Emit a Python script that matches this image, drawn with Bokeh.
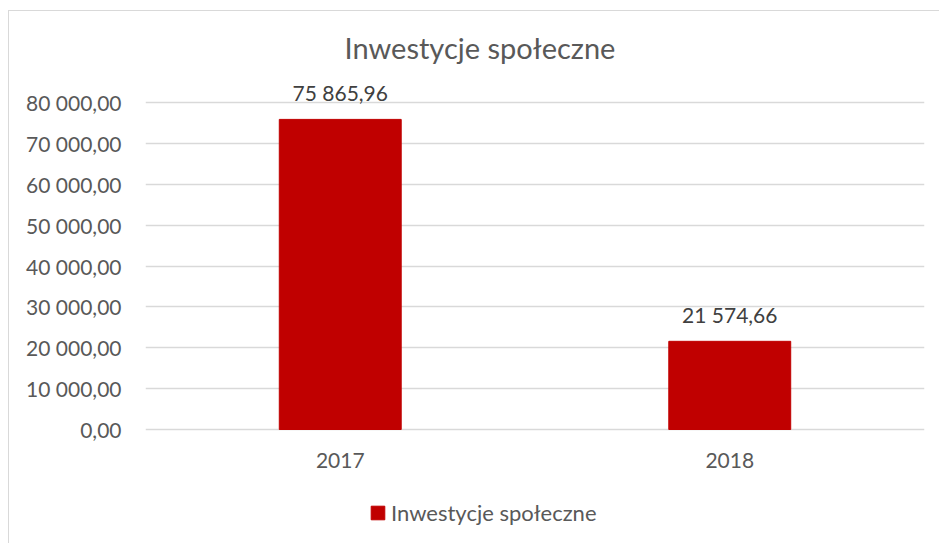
from bokeh.plotting import figure
from bokeh.models import ColumnDataSource, LabelSet, Legend, LegendItem, FixedTicker
from bokeh.core.properties import value
from bokeh.embed import file_html
from bokeh.resources import INLINE

categories = ["2017", "2018"]
values = [75865.96, 21574.66]
value_labels = ["75 865,96", "21 574,66"]
y_ticks = [0, 10000, 20000, 30000, 40000, 50000, 60000, 70000, 80000]
y_tick_labels = ["0,00", "10 000,00", "20 000,00", "30 000,00", "40 000,00",
                 "50 000,00", "60 000,00", "70 000,00", "80 000,00"]
series_name = "Inwestycje społeczne"
title_text = "Inwestycje społeczne"

FONT = "Lato"
GREY = "#595959"

src = ColumnDataSource(dict(cat=categories, val=values, lab=value_labels))

p = figure(x_range=categories, y_range=(-28134, 86116), width=931, height=533,
           output_backend="svg", toolbar_location=None,
           min_border_left=136, min_border_right=16, min_border_top=66,
           min_border_bottom=0, margin=(10, 0, 0, 8))
p.styles = {"border-left": "1px solid #d9d9d9", "border-top": "1px solid #d9d9d9"}

r = p.vbar(x="cat", top="val", width=0.313, source=src, color="#c00000")

p.title.text = title_text
p.title.align = "left"
p.title.offset = 199
p.title.text_font = FONT
p.title.text_font_size = "29px"
p.title.text_font_style = "normal"
p.title.text_color = GREY
p.title.standoff = 25

p.outline_line_color = None
p.background_fill_color = "white"
p.border_fill_color = "white"

p.xaxis.visible = False
p.xgrid.grid_line_color = None
p.ygrid.grid_line_color = "#d9d9d9"
p.ygrid.grid_line_width = 1.5

p.yaxis.ticker = FixedTicker(ticks=y_ticks)
p.yaxis.major_label_overrides = {t: l for t, l in zip(y_ticks, y_tick_labels)}
ax = p.yaxis[0]
ax.axis_line_color = None
ax.major_tick_line_color = None
ax.minor_tick_line_color = None
ax.major_tick_out = 0
ax.major_tick_in = 0
ax.major_label_text_font = FONT
ax.major_label_text_font_size = "21px"
ax.major_label_text_color = GREY
ax.major_label_standoff = 24

# category labels under the baseline
cat_labels = LabelSet(x="cat", y=0, text="cat", source=src, text_align="center",
                      text_baseline="alphabetic", y_offset=-38, text_font=value(FONT),
                      text_font_size=value("21px"), text_color=GREY)
p.add_layout(cat_labels)

labels = LabelSet(x="cat", y="val", text="lab", source=src, text_align="center",
                  text_baseline="alphabetic", y_offset=18, text_font=value(FONT),
                  text_font_size=value("21px"), text_color="#404040")
p.add_layout(labels)

legend = Legend(items=[LegendItem(label=series_name, renderers=[r])],
                location=(224, 18), orientation="horizontal",
                glyph_width=17, glyph_height=17, label_standoff=5,
                label_text_font=FONT, label_text_font_size="22px",
                label_text_color=GREY, border_line_color=None,
                background_fill_alpha=0, padding=0, margin=0)
p.add_layout(legend)

open("out.html", "w").write(file_html(p, INLINE))
